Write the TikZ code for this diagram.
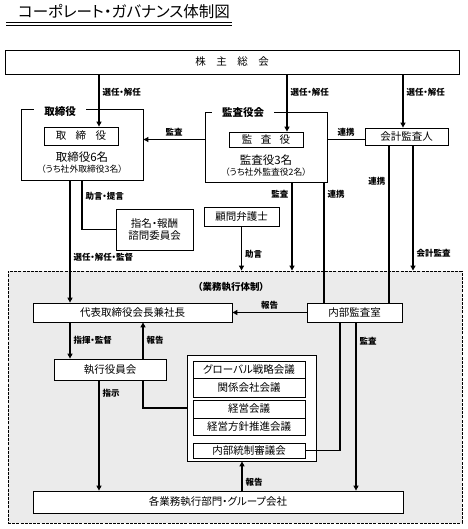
\documentclass[tikz,border=0pt]{standalone}
\usepackage{fontspec}
\setmainfont{Noto Sans CJK JP}[RawFeature=+palt]
\usetikzlibrary{arrows.meta}
\tikzset{
  box/.style={draw,fill=white,line width=0.8pt,inner sep=0pt,font=\fontsize{10.5}{12}\selectfont},
  grp/.style={draw,line width=0.9pt,inner sep=0pt},
  grplbl/.style={fill=white,inner xsep=10pt,inner ysep=0pt,font=\fontsize{10.5}{12}\selectfont\bfseries},
  sub/.style={inner sep=0pt,font=\fontsize{8.8}{10}\selectfont},
  lbl/.style={inner sep=3pt,font=\fontsize{8.5}{9}\selectfont\bfseries},
  line/.style={line width=1.1pt},
}
\begin{document}
\begin{tikzpicture}[x=1pt,y=-1pt,>={Triangle[length=5pt,width=5pt]}]
	\useasboundingbox (0,0) rectangle (467,529);
	% title
	\node[font=\fontsize{15.5}{17}\selectfont] (ttl) at (124,12) {コーポレート・ガバナンス体制図};
	\draw[line width=1.2pt] (6,22.5)--(232,22.5);
	\draw[line width=0.5pt] (6,25)--(232,25);
	% columns
	\foreach \x in {70,82,99,143,242,287,292,324,340,356,389,403,413}
		\coordinate (c\x) at (\x,0);
	% execution area
	\node[draw,dashed,dash pattern=on 3pt off 1.2pt,line width=0.9pt,fill=black!8,minimum width=454pt,minimum height=252pt] (gyomu) at (235,397) {};
	\node[font=\fontsize{9.5}{11}\selectfont\bfseries] (gyt) at (231,287) {（業務執行体制）};
	% top
	\node[box,minimum width=454pt,minimum height=24pt] (sh) at (232,62) {株\hspace{1em}主\hspace{1em}総\hspace{1em}会};
	% board
	\node[grp,minimum width=122pt,minimum height=71pt] (tbg) at (82,144.5) {};
	\node[grplbl] (tbl) at (60,112) {取締役};
	\node[box,minimum width=74pt,minimum height=18pt] (tb) at (81,136) {取\hspace{0.9em}締\hspace{0.9em}役};
	\node[font=\fontsize{11.5}{13}\selectfont] (tbn) at (82,157) {取締役6名};
	\node[sub] (tbs) at (82,169.5) {（うち社外取締役3名）};
	% auditors
	\node[grp,minimum width=122pt,minimum height=70pt] (kg) at (266,147) {};
	\node[grplbl] (kgl) at (243,113) {監査役会};
	\node[box,minimum width=74pt,minimum height=15pt] (kb) at (266,139.5) {監\hspace{0.8em}査\hspace{0.8em}役};
	\node[font=\fontsize{11.5}{13}\selectfont] (kbn) at (266,160) {監査役3名};
	\node[sub] (kbs) at (266,172.5) {（うち社外監査役2名）};
	\node[box,minimum width=83pt,minimum height=17pt] (ka) at (406.5,136.5) {会計監査人};
	\node[box,minimum width=77pt,minimum height=41pt,align=center] (ni) at (154.5,229.5) {指名・報酬\\諮問委員会};
	\node[box,minimum width=75pt,minimum height=19pt] (km) at (241.5,216.5) {顧問弁護士};
	% execution
	\node[box,minimum width=199pt,minimum height=19pt] (dh) at (132.5,312.5) {代表取締役会長兼社長};
	\node[box,minimum width=95pt,minimum height=19pt] (na) at (354.5,312.5) {内部監査室};
	\node[box,minimum width=112pt,minimum height=21pt] (sy) at (110,369.5) {執行役員会};
	\node[box,minimum width=129pt,minimum height=106pt] (mg) at (251.5,408) {};
	\node[box,minimum width=112pt,minimum height=17pt] (m1) at (249,369.5) {グローバル戦略会議};
	\node[box,minimum width=112pt,minimum height=19pt] (m2) at (249,387.5) {関係会社会議};
	\node[box,minimum width=112pt,minimum height=18pt] (m3) at (249,409) {経営会議};
	\node[box,minimum width=112pt,minimum height=17pt] (m4) at (249,426.5) {経営方針推進会議};
	\node[box,minimum width=112pt,minimum height=15pt] (m5) at (249,450.5) {内部統制審議会};
	\node[box,minimum width=370pt,minimum height=22pt] (gk) at (218,502) {各業務執行部門・グループ会社};
	% connectors
	\draw[line,->] (sh.south -| c99)--node[lbl,right,pos=.34]{選任・解任} (tb.north -| c99);
	\draw[line,->] (sh.south -| c287)--node[lbl,right,pos=.31]{選任・解任} (kb.north -| c287);
	\draw[line,->] (sh.south -| c403)--node[lbl,right,pos=.33]{選任・解任} (ka.north -| c403);
	\draw[line,->] (kg.west |- kb)--node[lbl,above]{監査} (tbg.east |- kb);
	\draw[line] (kg.east |- kb)--node[lbl,above]{連携} (ka.west |- kb);
	\draw[line,->] (tbg.south -| c70)--node[lbl,right,pos=.63]{選任・解任・監督} (dh.north -| c70);
	\draw[line] (tbg.south -| c82) |- node[lbl,right,pos=.16]{助言・提言} (ni.west);
	\draw[line,->] (km.south)--node[lbl,right,pos=.64]{助言} (gyomu.north -| km.south);
	\draw[line,->] (kg.south -| c292)--node[lbl,left,pos=.13]{監査} (gyomu.north -| c292);
	\draw[line] (kg.south -| c324)--node[lbl,right,pos=.1]{連携} (na.north -| c324);
	\draw[line] (ka.south -| c389)--node[lbl,left,pos=.23]{連携} (na.north -| c389);
	\draw[line,->] (ka.south -| c413)--node[lbl,right,pos=.86]{会計監査} (gyomu.north -| c413);
	\draw[line,->] (na.west)--node[lbl,above]{報告} (dh.east);
	\draw[line,->] (dh.south -| c70)--node[lbl,right,pos=.49]{指揮・監督} (sy.north -| c70);
	\draw[line] (mg.west) -| (sy.south -| c143);
	\draw[line,->] (sy.north -| c143)--node[lbl,right]{報告} (dh.south -| c143);
	\draw[line,->] (sy.south -| c99)--node[lbl,right,pos=.12]{指示} (gk.north -| c99);
	\draw[line] (m5.east) -| (na.south -| c340);
	\draw[line,->] (na.south -| c356)--node[lbl,right,pos=.11]{監査} (gk.north -| c356);
	\draw[line,->] (gk.north -| c242)--node[lbl,right,pos=.3]{報告} (mg.south -| c242);
\end{tikzpicture}
\end{document}
